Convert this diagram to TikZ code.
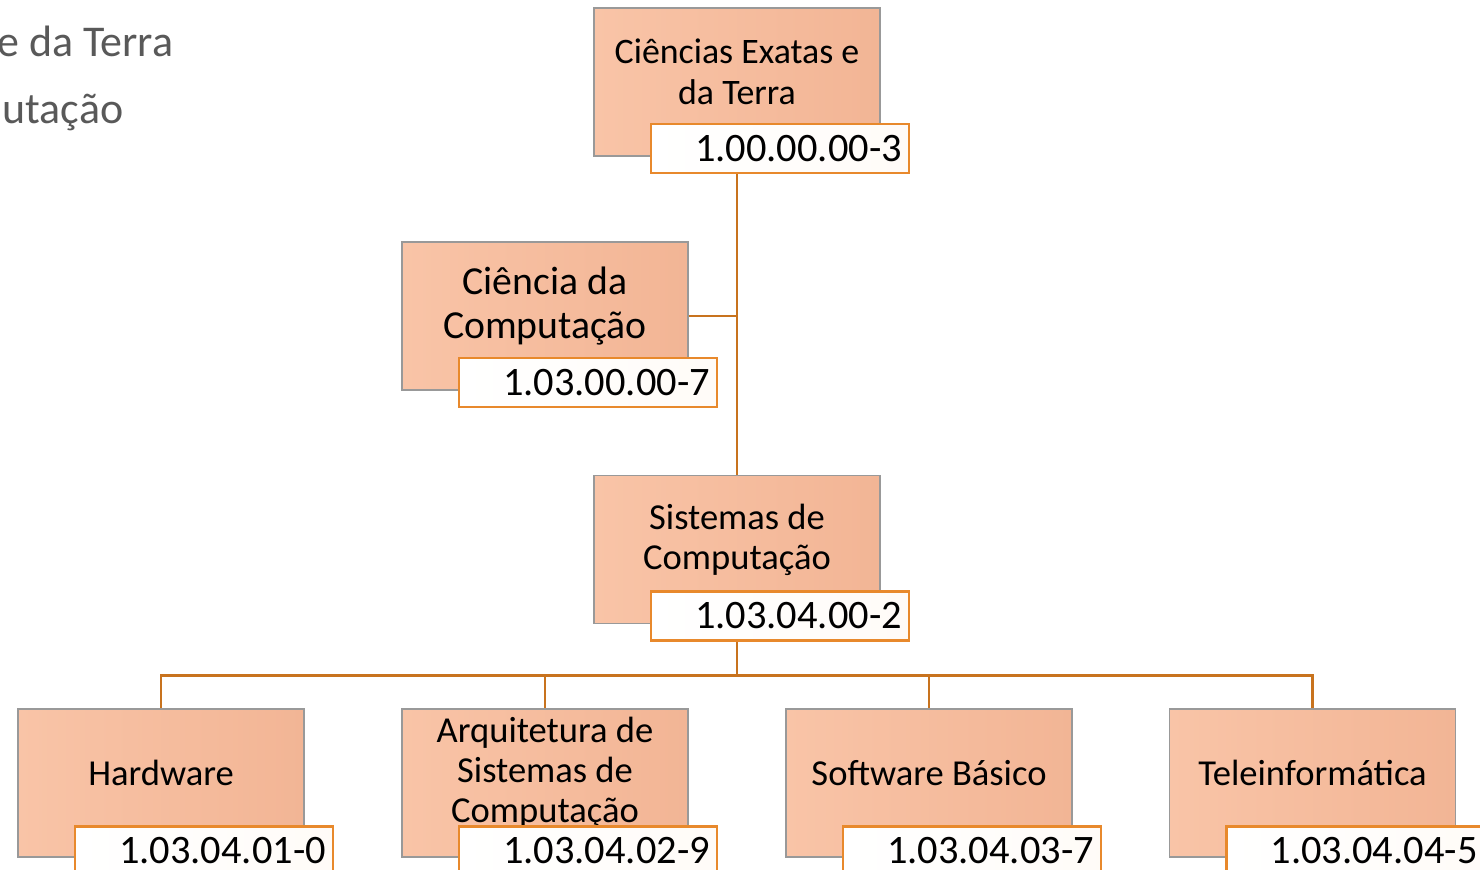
\documentclass[tikz,border=0pt]{standalone}
\usepackage{fontspec}
\setmainfont{Carlito}
\usetikzlibrary{shapes,positioning}

\definecolor{peachA}{HTML}{F9C4A7}
\definecolor{peachB}{HTML}{F2B595}
\definecolor{codeline}{HTML}{E8892C}
\definecolor{linkline}{HTML}{C8731E}
\definecolor{slidegray}{HTML}{595959}
\newcommand{\lowpad}{\par\vspace{0.2cm}}

\begin{document}
\begin{tikzpicture}[node distance = 2cm, auto]
  \tikzstyle{area} = [rectangle, draw=gray!80, line width=0.4pt,
    left color=peachA, right color=peachB, minimum width=2.86cm,
    minimum height=1.48cm, text width=2.6cm, align=flush center,
    execute at end node=\lowpad,
    font=\fontsize{10.4}{11.4}\selectfont]
  \tikzstyle{code} = [rectangle, draw=codeline, line width=0.8pt,
    left color=white, right color=orange!3, minimum width=2.58cm,
    minimum height=0.49cm, text width=2.44cm, inner xsep=0.07cm, inner ysep=0pt,
    align=flush right, font=\fontsize{11.5}{13}\selectfont]
  \tikzstyle{line} = [draw=linkline, line width=0.8pt]

  \useasboundingbox (0,0) rectangle (14.8,-8.7);
  \clip (0,0) rectangle (14.8,-8.7);

  % Slide text behind the chart
  \node [anchor=base east, text=slidegray, inner sep=0pt,
    font=\fontsize{12.5}{14}\selectfont] (slideA) at (1.74,-0.57) {e da Terra};
  \node [anchor=base east, text=slidegray, inner sep=0pt,
    font=\fontsize{12.5}{14}\selectfont] (slideB) at (1.24,-1.24) {utação};

  % Place nodes
  \node [area, font=\fontsize{10.2}{11.8}\selectfont] (exatas) at (7.37,-0.82) {Ciências Exatas e da Terra};
  \node [area, font=\fontsize{11.3}{12.4}\selectfont] (ccomp) at (5.45,-3.16) {Ciência da Computação};
  \node [area, below of=exatas, node distance=4.675cm] (siscomp) {Sistemas de Computação};

  \node [area, inner ysep=0pt, below of=ccomp, node distance=4.67cm] (arqsis) {Arquitetura de Sistemas de Computação};
  \node [area, left of=arqsis, node distance=3.84cm] (hardware) {Hardware};
  \node [area, right of=arqsis, node distance=3.84cm] (softbas) {Software Básico};
  \node [area, right of=softbas, node distance=3.835cm] (teleinf) {Teleinformática};

  % Draw edges
  \path [line] (exatas.south) -- (siscomp.north);
  \path [line] (ccomp.east) -- (ccomp.east -| exatas.south);
  \path [line] (siscomp.south) -- ++(0,-0.51) -| (hardware.north);
  \path [line] (siscomp.south) -- ++(0,-0.51) -| (arqsis.north);
  \path [line] (siscomp.south) -- ++(0,-0.51) -| (softbas.north);
  \path [line] (siscomp.south) -- ++(0,-0.51) -| (teleinf.north);

  % Code labels
  \node [code, xshift=0.43cm, yshift=-0.665cm] (exatascode) at (exatas) {1.00.00.00-3};
  \node [code, xshift=0.43cm, yshift=-0.665cm] (ccompcode) at (ccomp) {1.03.00.00-7};
  \node [code, xshift=0.43cm, yshift=-0.665cm] (siscompcode) at (siscomp) {1.03.04.00-2};
  \node [code, xshift=0.43cm, yshift=-0.68cm] (hardwarecode) at (hardware) {1.03.04.01-0};
  \node [code, xshift=0.43cm, yshift=-0.68cm] (arqsiscode) at (arqsis) {1.03.04.02-9};
  \node [code, xshift=0.43cm, yshift=-0.68cm] (softbascode) at (softbas) {1.03.04.03-7};
  \node [code, xshift=0.43cm, yshift=-0.68cm] (teleinfcode) at (teleinf) {1.03.04.04-5};
\end{tikzpicture}
\end{document}
